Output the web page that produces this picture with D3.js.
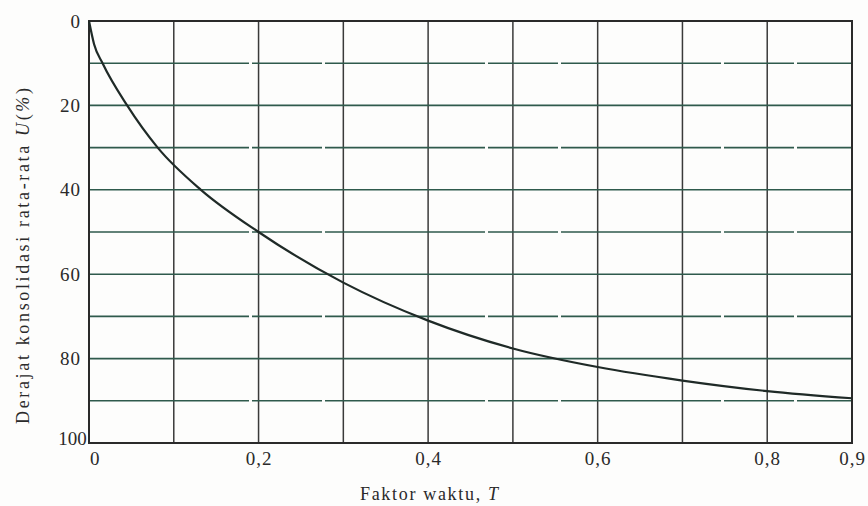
<!DOCTYPE html>
<html>
<head>
<meta charset="utf-8">
<script src="https://cdn.jsdelivr.net/npm/d3@7"></script>
<style>
  body { margin: 0; background: #fdfdfc; }
  svg { display: block; }
  .tick text { font-family: "Liberation Serif", "DejaVu Serif", serif; font-size: 19px; fill: #2a2a2a; letter-spacing: 1px; }
  .lbl { font-family: "Liberation Serif", "DejaVu Serif", serif; font-size: 18px; fill: #2a2a2a; }
</style>
</head>
<body>
<script>
// Faktor waktu T vs derajat konsolidasi U (%)
var T_vals = [0, 0.006, 0.016, 0.045, 0.081, 0.132, 0.2, 0.3, 0.4, 0.5, 0.6, 0.7, 0.8, 0.9]
var U_vals = [0, 5.5, 10, 20, 30, 40, 50, 62, 71, 77.6, 82, 85.2, 87.7, 89.4]
var xTicks = [0, 0.2, 0.4, 0.6, 0.8, 0.9]
var yTicks = [0, 20, 40, 60, 80, 100]
var xGrid = [0.1, 0.2, 0.3, 0.4, 0.5, 0.6, 0.7, 0.8]
var yGrid = [10, 20, 30, 40, 50, 60, 70, 80, 90]

var width = 868, height = 506
var m = { left: 89, right: 16, top: 21, bottom: 63 }

var svg = d3.select("body").append("svg")
  .attr("width", width)
  .attr("height", height)

var x = d3.scaleLinear().domain([0, 0.9]).range([m.left, width - m.right])
var y = d3.scaleLinear().domain([0, 100]).range([m.top, height - m.bottom])

// grid
svg.append("g").selectAll("line")
  .data(xGrid)
  .enter().append("line")
  .attr("x1", function(d) { return x(d) }).attr("x2", function(d) { return x(d) })
  .attr("y1", y(0)).attr("y2", y(100))
  .style("stroke", "#3a3a3a").style("stroke-width", 1.5)

svg.append("g").selectAll("line")
  .data(yGrid)
  .enter().append("line")
  .attr("x1", x(0)).attr("x2", x(0.9))
  .attr("y1", function(d) { return y(d) }).attr("y2", function(d) { return y(d) })
  .style("stroke", "#2f5a4c").style("stroke-width", 1.6)
  .style("stroke-dasharray", function(d) { return d % 20 ? "160,3,70,3" : null })

// frame
svg.append("rect")
  .attr("x", x(0)).attr("y", y(0))
  .attr("width", x(0.9) - x(0)).attr("height", y(100) - y(0))
  .style("fill", "none").style("stroke", "#2a2a2a").style("stroke-width", 2)

// axes (labels only)
var xAxis = svg.append("g")
  .attr("transform", "translate(0," + y(100) + ")")
  .call(d3.axisBottom(x).tickValues(xTicks).tickSize(0).tickPadding(9)
    .tickFormat(function(d) { return d === 0 ? "0" : d3.format(".1f")(d).replace(".", ",") }))
xAxis.select(".domain").remove()
xAxis.selectAll(".tick text").filter(function(d) { return d === 0 }).attr("dx", "0.3em")

var yAxis = svg.append("g")
  .attr("transform", "translate(" + x(0) + ",0)")
  .call(d3.axisLeft(y).tickValues(yTicks).tickSize(0).tickPadding(8))
yAxis.select(".domain").remove()
yAxis.selectAll(".tick text").filter(function(d) { return d === 100 })
  .attr("dy", "0.1em").attr("dx", "0.3em").style("letter-spacing", "0px")

// curve
var pts = T_vals.map(function(t, i) { return [t, U_vals[i]] })
svg.append("path")
  .datum(pts)
  .attr("d", d3.line().x(function(d) { return x(d[0]) }).y(function(d) { return y(d[1]) }).curve(d3.curveMonotoneX))
  .style("fill", "none").style("stroke", "#1f2a27").style("stroke-width", 2.2)

// titles
svg.append("text").attr("class", "lbl")
  .attr("x", 360).attr("y", 500)
  .attr("textLength", 138).attr("lengthAdjust", "spacing")
  .html('Faktor waktu, <tspan font-style="italic">T</tspan>')

svg.append("text").attr("class", "lbl")
  .attr("transform", "translate(29,424) rotate(-90)")
  .attr("textLength", 336).attr("lengthAdjust", "spacing")
  .html('Derajat konsolidasi rata-rata <tspan font-style="italic">U</tspan>(<tspan font-style="italic">%</tspan>)')
</script>
</body>
</html>
